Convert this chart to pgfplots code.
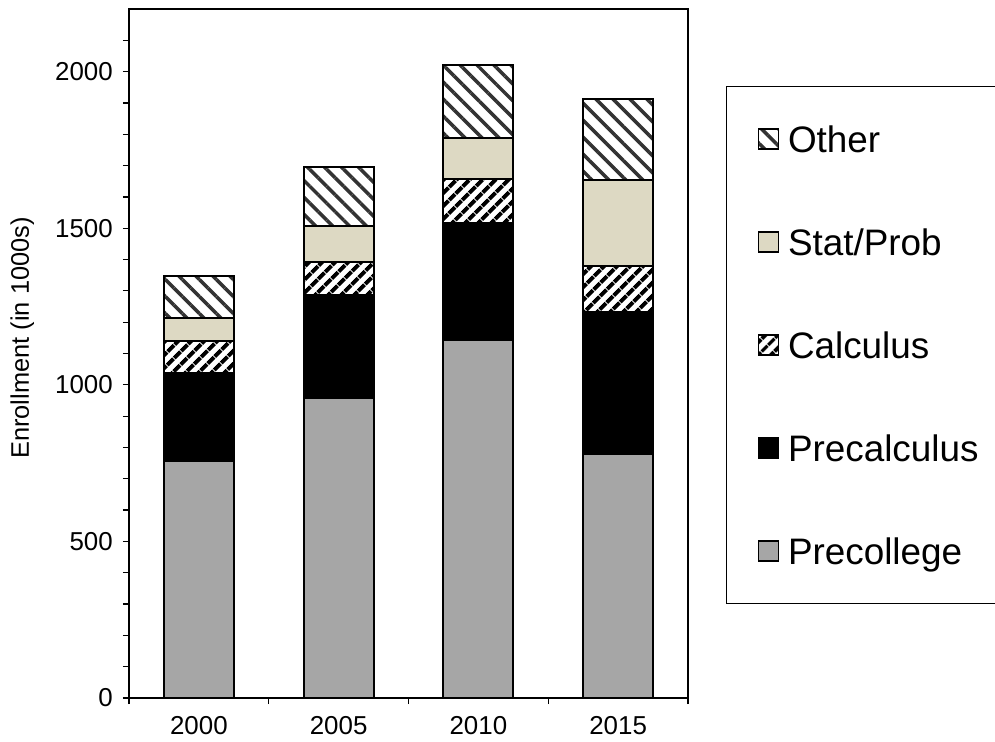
\documentclass[border=0pt]{standalone}
\usepackage{fontspec}
\setmainfont{Liberation Sans}
\usepackage{pgfplots}
\usepackage{pgfplotstable}
\pgfplotsset{compat=1.18}
\usetikzlibrary{patterns.meta}

\definecolor{precoll}{RGB}{166,166,166}
\definecolor{statprob}{RGB}{221,217,195}
\definecolor{hatchgray}{RGB}{51,51,51}

% enrollment in 1000s
\pgfplotstableread{
x pre  precalc calc stat other
0 756  281     102  73   134
1 957  329     105  115  191
2 1144 374     138  133  233
3 778  453     147  277  259
}\enroll

\pgfplotsset{
  sq legend/.style={legend image code/.code={
    \draw[##1, line width=1.5bp] (0bp,-10bp) rectangle (20bp,10bp);}},
}

\begin{document}
\begin{tikzpicture}
\begin{axis}[
  width=559bp, height=689bp, scale only axis,
  ybar stacked, bar width=70bp,
  xmin=-0.5, xmax=3.5, ymin=0, ymax=2200,
  xtick={0,1,2,3}, xticklabels={2000,2005,2010,2015},
  minor xtick={-0.5,0.5,1.5,2.5,3.5},
  major x tick style={draw=none},
  ytick={0,500,1000,1500,2000},
  minor ytick={100,200,300,400,600,700,800,900,1100,1200,1300,1400,1600,1700,1800,1900,2100},
  xtick pos=bottom, ytick pos=left,
  tick align=outside, major tick length=6bp, minor tick length=6bp,
  tick style={black, line width=1.2bp},
  axis line style={line width=2.2bp},
  /pgf/number format/assume math mode=true,
  /pgf/number format/1000 sep={},
  tick label style={font=\fontsize{26}{26}\selectfont},
  yticklabel style={inner sep=0pt, anchor=east, xshift=-10bp},
  xticklabel style={inner sep=0pt, anchor=north, yshift=-12bp},
  ylabel={Enrollment (in 1000s)},
  every axis y label/.style={at={(axis description cs:-0.191,0.5225)}, rotate=90, anchor=center,
    font=\fontsize{25.5}{25.5}\selectfont},
  reverse legend,
  legend cell align=left,
  legend style={at={(1.068,0.888)}, anchor=north west, draw=black, line width=1bp,
    inner xsep=31bp, inner ysep=39bp, row sep=76.5bp, column sep=9bp,
    font=\fontsize{37}{37}\selectfont,
    nodes={inner sep=0pt, text height=26.5bp, text depth=0pt, text width=230bp, anchor=west}},
]
\addplot[sq legend, fill=precoll, draw=black, line width=2bp] table[x=x, y=pre] {\enroll};
\addlegendentry{Precollege}
\addplot[sq legend, fill=black, draw=black, line width=2bp] table[x=x, y=precalc] {\enroll};
\addlegendentry{Precalculus}
\addplot[sq legend, pattern={Lines[angle=45, distance=10bp, line width=4.5bp]}, pattern color=black,
  draw=black, line width=2bp] table[x=x, y=calc] {\enroll};
\addlegendentry{Calculus}
\addplot[sq legend, fill=statprob, draw=black, line width=2bp] table[x=x, y=stat] {\enroll};
\addlegendentry{Stat/Prob}
\addplot[sq legend, pattern={Lines[angle=-45, distance=12bp, line width=3.5bp]}, pattern color=hatchgray,
  draw=black, line width=2bp] table[x=x, y=other] {\enroll};
\addlegendentry{Other}
\end{axis}
\pgfresetboundingbox
\path[use as bounding box] (-129bp,-44bp) rectangle (866bp,698bp);
\end{tikzpicture}
\end{document}
